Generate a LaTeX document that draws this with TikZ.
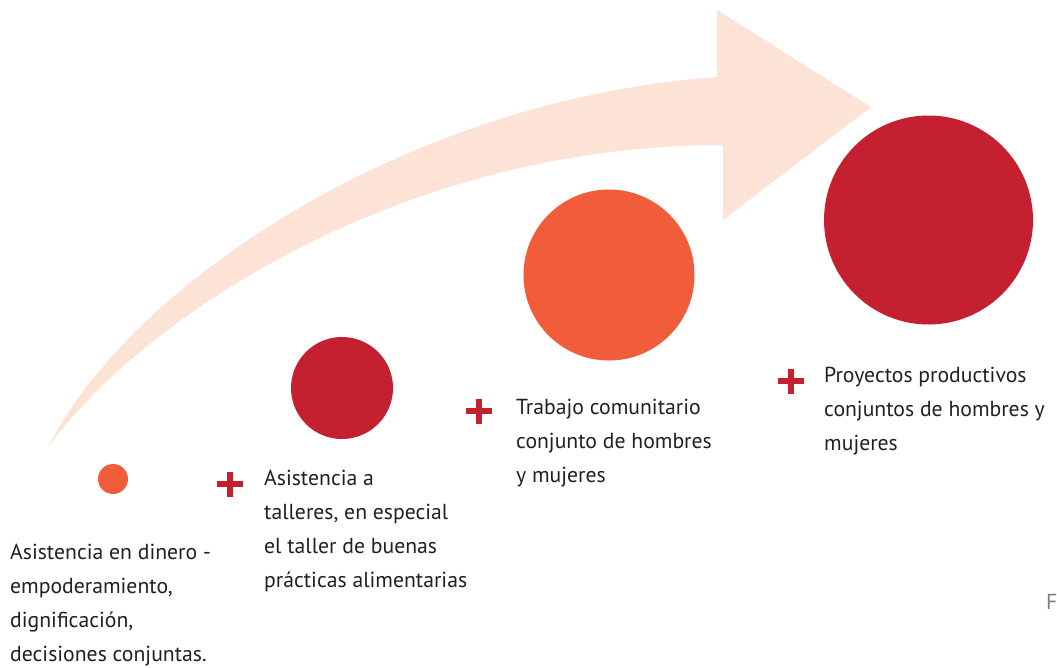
\documentclass[tikz,border=0pt]{standalone}
\usepackage{fontspec}
\setmainfont{PT Sans}
\definecolor{peach}{HTML}{FDE3D6}
\definecolor{naranja}{HTML}{F15D3A}
\definecolor{rojo}{HTML}{C4202F}
\definecolor{texto}{HTML}{231F20}

\begin{document}
\begin{tikzpicture}[x=1pt,y=-1pt,
		bubble/.style={circle,inner sep=0pt,minimum size=#1},
		plusmark/.style={inner sep=0pt,minimum width=26pt,minimum height=25pt,
			path picture={
				\fill[rojo] ([xshift=-2.6pt]path picture bounding box.north) rectangle ([xshift=2.6pt]path picture bounding box.south);
				\fill[rojo] ([yshift=2.6pt]path picture bounding box.west) rectangle ([yshift=-2.6pt]path picture bounding box.east);
			}},
		label text/.style={anchor=base west,inner sep=0pt,align=left,text=texto,
			font=\fontsize{21.7}{34}\selectfont}]
		\useasboundingbox (0,0) rectangle (1057,667);
		\fill[peach] (48,448) .. controls (125,290) and (400,100) .. (717,77)
			-- (717,10) -- (871,107) -- (723,220) -- (723,145)
			.. controls (390,145) and (130,330) .. (48,448) -- cycle;
		\node[bubble=30pt,fill=naranja] (dinero) at (113,479) {};
		\node[bubble=102pt,fill=rojo] (talleres) at (342,388) {};
		\node[bubble=171pt,fill=naranja] (trabajo) at (609,275) {};
		\node[bubble=209pt,fill=rojo] (proyectos) at (928.5,220) {};
		\node[plusmark] (plustalleres) at (230,484) {};
		\node[plusmark] (plustrabajo) at (479,411) {};
		\node[plusmark] (plusproyectos) at (791,381) {};
		\node[label text] (dinerotext) at (10,661) {Asistencia en dinero -\\empoderamiento,\\dignificación,\\decisiones conjuntas.};
		\node[label text] (tallerestext) at (264,587) {Asistencia a\\talleres, en especial\\el taller de buenas\\prácticas alimentarias};
		\node[label text] (trabajotext) at (516,482) {Trabajo comunitario\\conjunto de hombres\\y mujeres};
		\node[label text] (proyectostext) at (824,450) {Proyectos productivos\\conjuntos de hombres y\\mujeres};
		\node[label text,text=gray] (fuente) at (1046,609) {F};
	\end{tikzpicture}
\end{document}
